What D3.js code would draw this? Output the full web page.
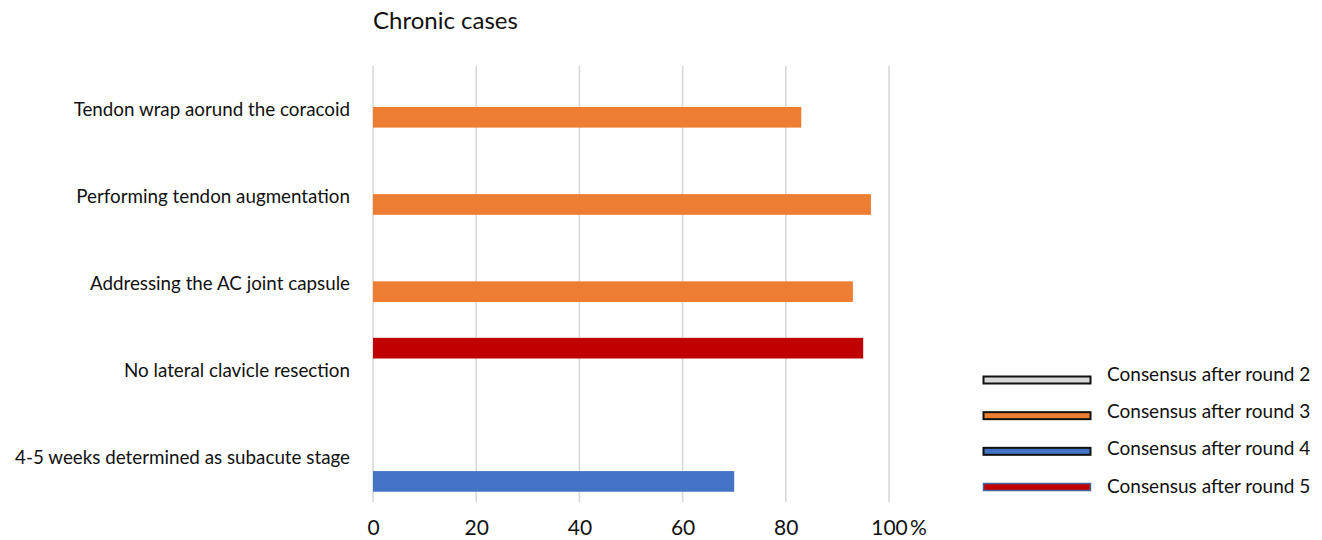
<!DOCTYPE html>
<html>
<head>
<meta charset="utf-8">
<script src="https://cdn.jsdelivr.net/npm/d3@7"></script>
<style>
  html, body { margin: 0; padding: 0; background: #fff; }
  svg { display: block; }
  text { font-family: Lato, "Noto Sans", sans-serif; fill: #111; }
</style>
</head>
<body>
<svg id="chart" width="1322" height="540"></svg>
<script>
// ---- data ----
const title = "Chronic cases";
const categories = [
  "Tendon wrap aorund the coracoid",
  "Performing tendon augmentation",
  "Addressing the AC joint capsule",
  "No lateral clavicle resection",
  "4-5 weeks determined as subacute stage"
];
const seriesNames = [
  "Consensus after round 2",
  "Consensus after round 3",
  "Consensus after round 4",
  "Consensus after round 5"
];
const round2 = [null, null, null, null, null];
const round3 = [83, 96.5, 93, null, null];
const round4 = [null, null, null, null, 70];
const round5 = [null, null, null, 95, null];
const xTicks = [0, 20, 40, 60, 80, 100];
const axisUnit = "%";
// slot order of series inside each group, top to bottom
const slotOrder = ["Consensus after round 5", "Consensus after round 2", "Consensus after round 3", "Consensus after round 4"];

// ---- styles ----
const fills = {
  "Consensus after round 2": "#d9d9d9",
  "Consensus after round 3": "#ed7d31",
  "Consensus after round 4": "#4472c4",
  "Consensus after round 5": "#c00000"
};
const legendStroke = {
  "Consensus after round 2": "#111",
  "Consensus after round 3": "#111",
  "Consensus after round 4": "#111",
  "Consensus after round 5": "#41679e"
};
const legendStrokeW = {
  "Consensus after round 2": 2,
  "Consensus after round 3": 2,
  "Consensus after round 4": 2,
  "Consensus after round 5": 1.5
};

const seriesValues = [round2, round3, round4, round5];
const series = seriesNames.map((name, i) => ({ name, values: seriesValues[i] }));

const svg = d3.select("#chart");
const FONT = "Lato, 'Noto Sans', sans-serif";

const x = d3.scaleLinear().domain([0, 100]).range([373, 889]);
const y = d3.scaleBand().domain(categories).range([66, 502]).paddingInner(0).paddingOuter(0);
const slotHalf = y.bandwidth() * 0.264;
const slot = d3.scalePoint().domain(slotOrder).range([-slotHalf, slotHalf]);
const barH = y.bandwidth() * 0.237;

// gridlines
svg.append("g")
  .selectAll("line")
  .data(xTicks)
  .join("line")
  .attr("x1", d => x(d)).attr("x2", d => x(d))
  .attr("y1", 66).attr("y2", 502)
  .attr("stroke", "#d9d9d9")
  .attr("stroke-width", 1.6);

// x axis tick labels
const xAxis = d3.axisBottom(x).tickValues(xTicks).tickSize(0).tickPadding(0);
const gx = svg.append("g").attr("transform", "translate(0,520)").call(xAxis);
gx.select(".domain").remove();
gx.selectAll("text")
  .attr("font-size", 21)
  .attr("font-family", FONT)
  .attr("fill", "#111");
svg.append("text")
  .attr("x", x(100) + 21).attr("y", 535)
  .attr("font-size", 21)
  .text(axisUnit);

// y axis labels
const yAxis = d3.axisLeft(y).tickSize(0).tickPadding(0);
const gy = svg.append("g").attr("transform", "translate(350,0)").call(yAxis);
gy.select(".domain").remove();
gy.selectAll("text")
  .attr("font-size", 18.8)
  .attr("font-family", FONT)
  .attr("fill", "#111");

// bars
const barData = [];
series.forEach(s => {
  s.values.forEach((v, i) => {
    if (v != null) barData.push({ series: s.name, cat: categories[i], value: v });
  });
});
svg.append("g")
  .selectAll("rect")
  .data(barData)
  .join("rect")
  .attr("x", x(0))
  .attr("y", d => y(d.cat) + y.bandwidth() / 2 + slot(d.series) - barH / 2)
  .attr("width", d => x(d.value) - x(0))
  .attr("height", barH)
  .attr("fill", d => fills[d.series]);

// title
svg.append("text")
  .attr("x", 373).attr("y", 29)
  .attr("font-size", 24)
  .text(title);

// legend
const swatchY = d3.scalePoint().domain(seriesNames).range([380, 487]);
const labelY = d3.scalePoint().domain(seriesNames).range([374.5, 486]);
const lg = svg.append("g")
  .selectAll("g")
  .data(seriesNames)
  .join("g");
lg.append("rect")
  .attr("x", 983.5).attr("y", d => swatchY(d) - 3.5)
  .attr("width", 107).attr("height", 7)
  .attr("fill", d => fills[d])
  .attr("stroke", d => legendStroke[d])
  .attr("stroke-width", d => legendStrokeW[d]);
lg.append("text")
  .attr("x", 1107).attr("y", d => labelY(d))
  .attr("dy", "0.35em")
  .attr("font-size", 19)
  .text(d => d);
</script>
</body>
</html>
